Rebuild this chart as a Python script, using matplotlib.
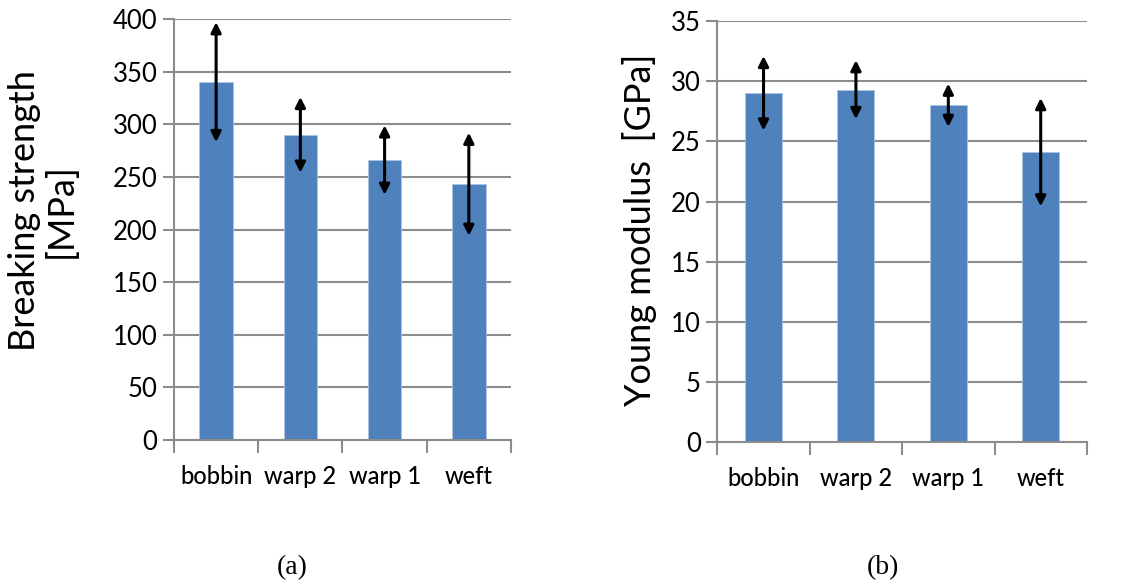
import numpy as np
import matplotlib.pyplot as plt
from matplotlib.ticker import FixedLocator

# data
categories = ['bobbin', 'warp 2', 'warp 1', 'weft']
strength = [340, 290, 266, 243]          # MPa
strength_err = [57, 36, 33, 49]
modulus = [29.0, 29.3, 28.0, 24.1]       # GPa
modulus_err = [3.1, 2.45, 1.8, 4.5]

bar_col = '#4F81BD'
grid_col = '#8C8C8C'
tick_font = ['Lato', 'DejaVu Sans']

fig = plt.figure(figsize=(11.24, 5.87), dpi=100)
ax1 = fig.add_axes([0.1548, 0.2504, 0.2998, 0.7172])
ax2 = fig.add_axes([0.6382, 0.2465, 0.3288, 0.7177])


def draw_panel(ax, vals, errs, ymax, ystep, ylabel, lab_xy):
    x = np.arange(len(categories))
    ax.set_axisbelow(True)
    ax.bar(x, vals, width=0.4, color=bar_col, edgecolor='#A9C3E0', linewidth=0.6, zorder=2)
    for xi, v, e in zip(x, vals, errs):
        ax.annotate('', xy=(xi, v + e), xytext=(xi, v - e),
                    arrowprops=dict(arrowstyle='<|-|>', color='black', lw=2.2,
                                    mutation_scale=15, shrinkA=0, shrinkB=0),
                    zorder=3)
    ax.set_xlim(-0.5, len(categories) - 0.5)
    ax.set_ylim(0, ymax)
    ax.set_yticks(np.arange(0, ymax + ystep / 2, ystep))
    ax.yaxis.grid(True, color=grid_col, lw=1.5)
    for s in ['top', 'right']:
        ax.spines[s].set_visible(False)
    for s in ['left', 'bottom']:
        ax.spines[s].set_color(grid_col)
        ax.spines[s].set_linewidth(1.5)
    ax.set_xticks(x)
    ax.set_xticklabels(categories, family=tick_font, fontsize=17, weight='medium')
    ax.xaxis.set_minor_locator(FixedLocator(np.arange(-0.5, len(categories), 1.0)))
    ax.tick_params(axis='x', which='major', length=0, pad=18)
    ax.tick_params(axis='x', which='minor', length=9, width=1.5, color=grid_col)
    ax.tick_params(axis='y', length=8, width=1.5, color=grid_col, pad=4)
    for t in ax.get_yticklabels():
        t.set_family(tick_font)
        t.set_fontsize(18.5)
    ax.set_ylabel(ylabel, family=['Lato', 'DejaVu Sans'], fontsize=26,
                  linespacing=1.1, ha='center')
    ax.yaxis.set_label_coords(*lab_xy)


draw_panel(ax1, strength, strength_err, 400, 50, 'Breaking strength\n[MPa]', (-0.285, 0.546))
draw_panel(ax2, modulus, modulus_err, 35, 5, 'Young modulus  [GPa]', (-0.163, 0.504))

fig.text(292 / 1124, 1 - 568 / 587, '(a)', family=['Liberation Serif', 'DejaVu Serif'],
         fontsize=20, ha='center', va='center')
fig.text(883 / 1124, 1 - 568 / 587, '(b)', family=['Liberation Serif', 'DejaVu Serif'],
         fontsize=20, ha='center', va='center')

fig.savefig('out.png', dpi=100, facecolor='white')
